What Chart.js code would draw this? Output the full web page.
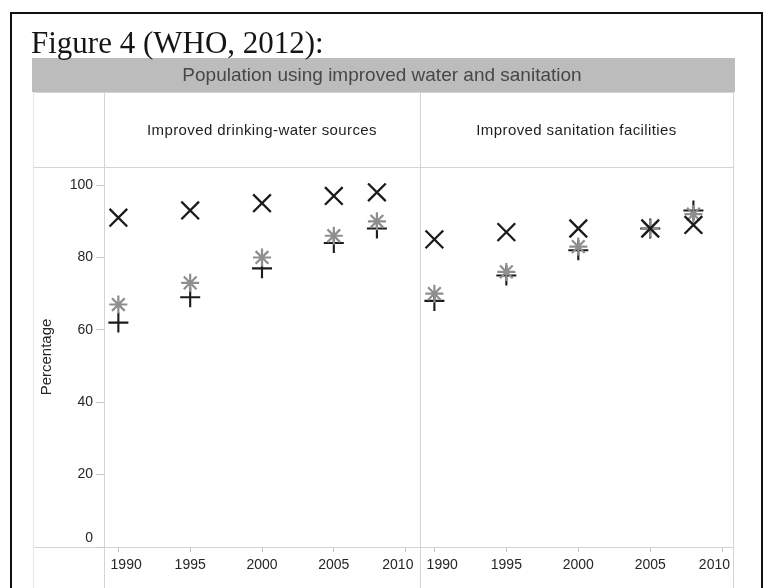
<!DOCTYPE html>
<html>
<head>
<meta charset="utf-8">
<script src="https://cdn.jsdelivr.net/npm/chart.js@4"></script>
<style>
  html, body { margin: 0; padding: 0; background: #fff; }
  canvas { display: block; }
</style>
</head>
<body>
<canvas id="chart" width="767" height="588"></canvas>
<script>
// Survey years and axis ticks
const years = [1990, 1995, 2000, 2005, 2008];
const yearTicks = [1990, 1995, 2000, 2005, 2010];
const percentTicks = [0, 20, 40, 60, 80, 100];

// Text
const figureTitle = 'Figure 4 (WHO, 2012):';
const bandTitle = 'Population using improved water and sanitation';
const panelTitles = ['Improved drinking-water sources', 'Improved sanitation facilities'];
const yAxisTitle = 'Percentage';

// Coverage (%) — drinking water
const waterUrban = [91, 93, 95, 97, 98];
const waterTotal = [67, 73, 80, 86, 90];
const waterRural = [62, 69, 77, 84, 88];

// Coverage (%) — sanitation
const sanitationUrban = [85, 87, 88, 88, 89];
const sanitationTotal = [70, 76, 83, 88, 92];
const sanitationRural = [68, 75, 82, 88, 93];

const sans = '"Liberation Sans", Arial, Helvetica, sans-serif';
const serif = '"Liberation Serif", "Times New Roman", serif';

const toPoints = vals => years.map((x, i) => ({ x, y: vals[i] }));

const markerStyles = {
  urban: { pointStyle: 'crossRot', pointRadius: 12.5, pointBorderWidth: 2.3, color: '#1b1b1b' },
  total: { pointStyle: 'star',     pointRadius: 9,    pointBorderWidth: 2.2, color: '#8e8e8e' },
  rural: { pointStyle: 'cross',    pointRadius: 10,   pointBorderWidth: 2.1, color: '#1b1b1b' }
};

function series(label, vals, axis, kind) {
  const s = markerStyles[kind];
  return {
    label,
    data: toPoints(vals),
    xAxisID: axis,
    yAxisID: 'y',
    pointStyle: s.pointStyle,
    pointRadius: s.pointRadius,
    pointHoverRadius: s.pointRadius,
    pointBorderWidth: s.pointBorderWidth,
    pointBorderColor: s.color,
    pointBackgroundColor: s.color,
    showLine: false
  };
}

// End labels of each panel are nudged inwards so neighbouring panels don't collide
function yearLabel(v) {
  const t = String(v);
  if (v === yearTicks[0]) return '    ' + t;
  if (v === yearTicks[yearTicks.length - 1]) return t + '    ';
  return t;
}

function yearScale(max, weight) {
  return {
    type: 'linear',
    position: 'bottom',
    stack: 'panels',
    stackWeight: weight,
    min: 1989,
    max: max,
    afterBuildTicks: s => { s.ticks = yearTicks.map(v => ({ value: v })); },
    afterFit: s => { s.height = 41; },
    ticks: {
      callback: yearLabel,
      font: { family: sans, size: 14 },
      color: '#262626',
      padding: 5,
      maxRotation: 0,
      autoSkip: false
    },
    grid: { drawOnChartArea: false, tickLength: 5, color: '#c4c4c4' },
    border: { display: false }
  };
}

// Frame, headings and table rules around the two panels
const figureLayout = {
  id: 'figureLayout',
  beforeDraw(chart) {
    const ctx = chart.ctx;
    const area = chart.chartArea;
    const left = chart.scales.xWater;
    const right = chart.scales.xSanitation;
    const tableLeft = 33;
    const W = chart.width, H = chart.height;

    ctx.save();
    ctx.fillStyle = '#ffffff';
    ctx.fillRect(0, 0, W, H);

    // grey heading band
    ctx.fillStyle = '#bcbcbd';
    ctx.fillRect(32, 58, 703, 34);
    ctx.fillStyle = '#474747';
    ctx.font = '19px ' + sans;
    ctx.textAlign = 'center';
    ctx.textBaseline = 'middle';
    ctx.fillText(bandTitle, 382, 76);

    // table rules
    ctx.lineWidth = 1;
    ctx.strokeStyle = '#d4d4d4';
    ctx.beginPath();
    [area.left, left.right, area.right].forEach(x => {
      ctx.moveTo(Math.round(x) + 0.5, 92);
      ctx.lineTo(Math.round(x) + 0.5, H);
    });
    [92, area.top, area.bottom].forEach(y => {
      ctx.moveTo(tableLeft, Math.round(y) + 0.5);
      ctx.lineTo(area.right, Math.round(y) + 0.5);
    });
    ctx.stroke();
    ctx.strokeStyle = '#e6e6e6';
    ctx.beginPath();
    ctx.moveTo(tableLeft + 0.5, 92);
    ctx.lineTo(tableLeft + 0.5, H);
    ctx.stroke();

    // panel headings
    ctx.fillStyle = '#1e1e1e';
    ctx.font = '15px ' + sans;
    if ('letterSpacing' in ctx) ctx.letterSpacing = '0.4px';
    ctx.fillText(panelTitles[0], (left.left + left.right) / 2, 131);
    ctx.fillText(panelTitles[1], (right.left + right.right) / 2, 131);
    if ('letterSpacing' in ctx) ctx.letterSpacing = '0px';

    // figure caption
    ctx.fillStyle = '#151515';
    ctx.font = '31px ' + serif;
    ctx.textAlign = 'left';
    ctx.textBaseline = 'alphabetic';
    ctx.fillText(figureTitle, 31, 53);

    // outer frame
    ctx.strokeStyle = '#111111';
    ctx.lineWidth = 2;
    ctx.beginPath();
    ctx.moveTo(11, H + 2);
    ctx.lineTo(11, 13);
    ctx.lineTo(762, 13);
    ctx.lineTo(762, H + 2);
    ctx.stroke();
    ctx.restore();
  }
};

new Chart(document.getElementById('chart'), {
  type: 'scatter',
  data: {
    datasets: [
      series('Urban', waterUrban, 'xWater', 'urban'),
      series('Total', waterTotal, 'xWater', 'total'),
      series('Rural', waterRural, 'xWater', 'rural'),
      series('Urban', sanitationUrban, 'xSanitation', 'urban'),
      series('Total', sanitationTotal, 'xSanitation', 'total'),
      series('Rural', sanitationRural, 'xSanitation', 'rural')
    ]
  },
  options: {
    responsive: false,
    animation: false,
    devicePixelRatio: 1,
    layout: { padding: { top: 167, left: 33, right: 34, bottom: 0 } },
    plugins: {
      legend: { display: false },
      tooltip: { enabled: false }
    },
    scales: {
      xWater: yearScale(2011, 316),
      xSanitation: yearScale(2010.75, 313),
      y: {
        type: 'linear',
        position: 'left',
        min: 0,
        max: 105,
        afterBuildTicks: s => { s.ticks = percentTicks.map(v => ({ value: v })); },
        afterFit: s => { s.width = 71; },
        ticks: {
          // the zero label sits just above the axis rule
          callback: v => (v === 0 ? ['0', ''] : String(v)),
          font: { family: sans, size: 14 },
          color: '#262626',
          padding: 3
        },
        grid: { drawOnChartArea: false, tickLength: 8, color: '#c8c8c8' },
        border: { display: false },
        title: {
          display: true,
          text: yAxisTitle,
          font: { family: sans, size: 15 },
          color: '#262626',
          padding: { top: 5, bottom: 0 }
        }
      }
    }
  },
  plugins: [figureLayout]
});
</script>
</body>
</html>
